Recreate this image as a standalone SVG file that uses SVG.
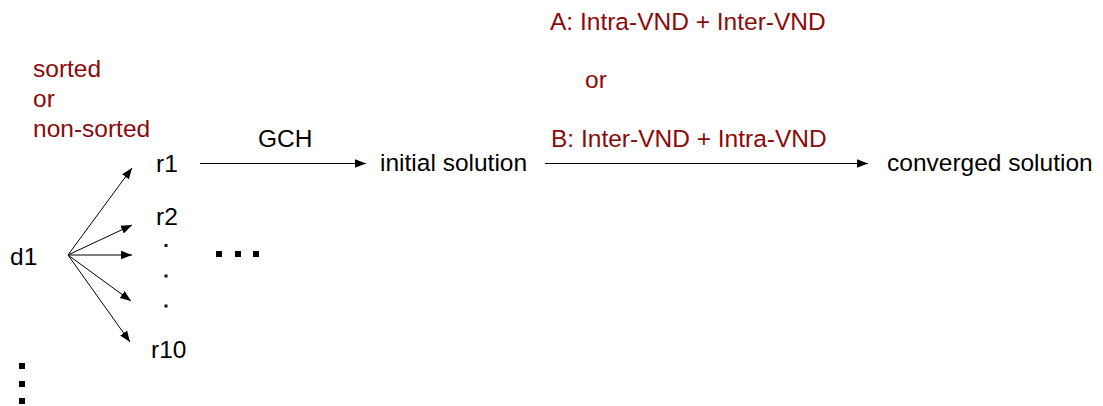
<svg xmlns="http://www.w3.org/2000/svg" width="1103" height="406" viewBox="0 0 1103 406">
  <style>
    .t { font-family: "Liberation Sans", Arial, sans-serif; font-size: 24.5px; fill: #000; }
    .red { fill: #8B0A0A; }
    .edge { stroke: #000; stroke-width: 1; fill: none; marker-end: url(#arrow); }
    .sq { fill: #000; }
    .dot { fill: #111; }
  </style>
  <defs>
    <marker id="arrow" markerUnits="userSpaceOnUse" markerWidth="12" markerHeight="10" viewBox="0 0 12 10" refX="11" refY="5" orient="auto">
      <path d="M0,0.8 L11,5 L0,9.2 Z" fill="#000"/>
    </marker>
  </defs>

  <rect width="1103" height="406" fill="#fff"/>

  <!-- ordering note -->
  <g id="order-note">
    <text class="t red" x="33" y="77">sorted</text>
    <text class="t red" x="33" y="107">or</text>
    <text class="t red" x="33" y="137">non-sorted</text>
  </g>

  <g id="d1">
    <text class="t" x="10" y="265">d1</text>
  </g>

  <g id="r-nodes">
    <text class="t" x="156" y="172">r1</text>
    <text class="t" x="156" y="225">r2</text>
    <!-- vertical ellipsis between r2 and r10 -->
    <rect class="dot" x="164.5" y="244" width="3" height="3"/>
    <rect class="dot" x="164.5" y="274.5" width="3" height="3"/>
    <rect class="dot" x="164.5" y="304.5" width="3" height="3"/>
    <text class="t" x="151" y="358">r10</text>
  </g>

  <!-- continuation marks -->
  <g id="more-horizontal">
    <rect class="sq" x="216" y="251" width="6" height="6"/>
    <rect class="sq" x="235" y="251" width="6" height="6"/>
    <rect class="sq" x="253" y="251" width="6" height="6"/>
  </g>
  <g id="more-vertical">
    <rect class="sq" x="19" y="363" width="6" height="6"/>
    <rect class="sq" x="19" y="381" width="6" height="6"/>
    <rect class="sq" x="19" y="398" width="6" height="6"/>
  </g>

  <g id="gch-label">
    <text class="t" x="258" y="147">GCH</text>
  </g>

  <g id="initial-solution">
    <text class="t" x="380" y="171">initial solution</text>
  </g>

  <g id="vnd-options">
    <text class="t red" x="550" y="30">A: Intra-VND + Inter-VND</text>
    <text class="t red" x="585" y="88">or</text>
    <text class="t red" x="551" y="147">B: Inter-VND + Intra-VND</text>
  </g>

  <g id="converged-solution">
    <text class="t" x="887" y="171">converged solution</text>
  </g>

  <g id="connectors">
    <path class="edge" d="M68,255 L132,168"/>
    <path class="edge" d="M68,255 L132,225"/>
    <path class="edge" d="M68,255 L132,255"/>
    <path class="edge" d="M68,255 L131,301"/>
    <path class="edge" d="M68,255 L130,342"/>
    <path class="edge" d="M200,163.5 L366,163.5"/>
    <path class="edge" d="M545,163.5 L868,163.5"/>
  </g>
</svg>
